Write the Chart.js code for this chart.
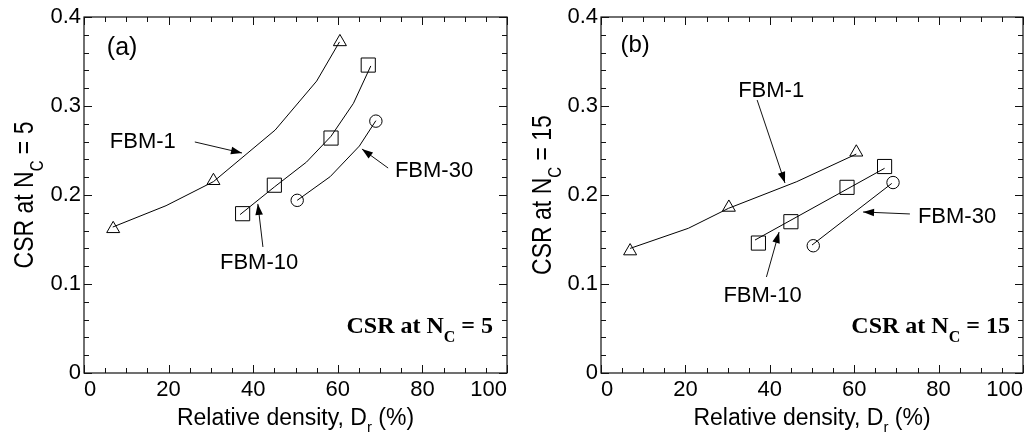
<!DOCTYPE html>
<html><head><meta charset="utf-8">
<script src="https://cdn.jsdelivr.net/npm/chart.js@4/dist/chart.umd.min.js"></script>
<style>
html,body{margin:0;padding:0;background:#fff;}
#wrap{display:flex;width:1036px;height:434px;}
canvas{display:block;}
</style></head><body>
<div id="wrap"><canvas id="ca" width="518" height="434"></canvas><canvas id="cb" width="518" height="434"></canvas></div>
<script>
// ---------- tick values ----------
const xTickStep = 20;
const yTickStep = 0.1;
const xRange = [0, 100];
const yRange = [0, 0.4];

// ---------- Panel (a): CSR at Nc = 5 ----------
const a_fbm1_Dr   = [6.9, 30.6, 60.5];
const a_fbm1_CSR  = [0.162, 0.216, 0.372];
const a_fbm1_fitDr  = [6.8, 19.4, 30.6, 45.2, 55.0, 60.4];
const a_fbm1_fitCSR = [0.164, 0.188, 0.215, 0.273, 0.328, 0.372];

const a_fbm10_Dr  = [37.5, 45.0, 58.4, 67.2];
const a_fbm10_CSR = [0.179, 0.211, 0.264, 0.346];
const a_fbm10_fitDr  = [36.9, 45.0, 52.6, 58.4, 63.7, 67.8];
const a_fbm10_fitCSR = [0.178, 0.209, 0.237, 0.266, 0.303, 0.345];

const a_fbm30_Dr  = [50.4, 69.0];
const a_fbm30_CSR = [0.194, 0.283];
const a_fbm30_fitDr  = [50.4, 58.2, 65.1, 69.0];
const a_fbm30_fitCSR = [0.194, 0.2206, 0.255, 0.2835];

// ---------- Panel (b): CSR at Nc = 15 ----------
const b_fbm1_Dr   = [6.9, 30.3, 60.5];
const b_fbm1_CSR  = [0.137, 0.186, 0.248];
const b_fbm1_fitDr  = [6.9, 20.7, 30.2, 46.4, 60.5];
const b_fbm1_fitCSR = [0.140, 0.1626, 0.185, 0.215, 0.246];

const b_fbm10_Dr  = [37.3, 45.0, 58.3, 67.2];
const b_fbm10_CSR = [0.146, 0.170, 0.2086, 0.232];
const b_fbm10_fitDr  = [36.5, 67.2];
const b_fbm10_fitCSR = [0.1494, 0.230];

const b_fbm30_Dr  = [50.3, 69.2];
const b_fbm30_CSR = [0.143, 0.214];
const b_fbm30_fitDr  = [50.0, 68.9];
const b_fbm30_fitCSR = [0.1438, 0.213];

// ---------- helpers ----------
const SANS = '"Liberation Sans", Arial, Helvetica, sans-serif';
const SERIF = '"Liberation Serif", "Times New Roman", serif';
const zip = (xs, ys) => xs.map((x, i) => ({x, y: ys[i]}));

function richWidth(ctx, parts) {
  let w = 0;
  for (const p of parts) { ctx.font = p.font; w += ctx.measureText(p.t).width; }
  return w;
}
function drawRich(ctx, parts, x, y) {
  for (const p of parts) {
    ctx.font = p.font;
    ctx.fillText(p.t, x, y + (p.dy || 0));
    x += ctx.measureText(p.t).width;
  }
}
function arrow(ctx, x0, y0, x1, y1) {
  ctx.beginPath(); ctx.moveTo(x0, y0); ctx.lineTo(x1, y1); ctx.stroke();
  const ang = Math.atan2(y1 - y0, x1 - x0), L = 11, W = 3.8;
  const bx = x1 - L * Math.cos(ang), by = y1 - L * Math.sin(ang);
  ctx.beginPath();
  ctx.moveTo(x1, y1);
  ctx.lineTo(bx + W * Math.sin(ang), by - W * Math.cos(ang));
  ctx.lineTo(bx - W * Math.sin(ang), by + W * Math.cos(ang));
  ctx.closePath(); ctx.fill();
}

function decorPlugin(cfg) {
  return {
    id: 'decor',
    afterDraw(chart) {
      const ctx = chart.ctx, ca = chart.chartArea;
      const sx = chart.scales.x, sy = chart.scales.y;
      const X = v => sx.getPixelForValue(v), Y = v => sy.getPixelForValue(v);
      ctx.save();
      ctx.strokeStyle = '#111'; ctx.fillStyle = '#000'; ctx.lineWidth = 1.2;
      // frame
      ctx.strokeRect(ca.left, ca.top, ca.right - ca.left, ca.bottom - ca.top);
      // inward ticks
      ctx.lineWidth = 1;
      ctx.beginPath();
      for (let i = 0; i <= 20; i++) {
        const px = Math.round(X(i * 5)) + 0.5, len = (i % 4 === 0) ? 8 : 5;
        ctx.moveTo(px, ca.bottom); ctx.lineTo(px, ca.bottom - len);
        ctx.moveTo(px, ca.top); ctx.lineTo(px, ca.top + len);
      }
      for (let i = 0; i <= 20; i++) {
        const py = Math.round(Y(i * 0.02)) + 0.5, len = (i % 5 === 0) ? 8 : 5;
        ctx.moveTo(ca.left, py); ctx.lineTo(ca.left + len, py);
        ctx.moveTo(ca.right, py); ctx.lineTo(ca.right - len, py);
      }
      ctx.stroke();

      ctx.textAlign = 'left'; ctx.textBaseline = 'alphabetic';
      // x axis title
      const xt = [
        {t: 'Relative density, D', font: '23px ' + SANS},
        {t: 'r', font: '15px ' + SANS, dy: 7},
        {t: ' (%)', font: '23px ' + SANS}
      ];
      const xw = richWidth(ctx, xt);
      drawRich(ctx, xt, (ca.left + ca.right) / 2 - xw / 2, 425);
      // y axis title (rotated)
      const yt = [
        {t: 'CSR at N', font: '23px ' + SANS},
        {t: 'C', font: '15px ' + SANS, dy: 8},
        {t: ' = ' + cfg.nc, font: '23px ' + SANS}
      ];
      const yw = richWidth(ctx, yt);
      ctx.save();
      ctx.translate(cfg.yTitleX, (ca.top + ca.bottom) / 2);
      ctx.rotate(-Math.PI / 2);
      ctx.scale(1, 1.2);
      drawRich(ctx, yt, -yw / 2, 0);
      ctx.restore();

      // panel label
      ctx.font = cfg.panel.size + 'px ' + SANS;
      ctx.fillText(cfg.panel.t, X(cfg.panel.x), Y(cfg.panel.y));

      // series labels + arrows
      ctx.lineWidth = 1;
      for (const a of cfg.notes) {
        ctx.font = '22px ' + SANS;
        ctx.fillText(a.t, X(a.x), Y(a.y));
        arrow(ctx, X(a.from[0]), Y(a.from[1]), X(a.to[0]), Y(a.to[1]));
      }

      // bold box label
      const bt = [
        {t: 'CSR at N', font: 'bold 24px ' + SERIF},
        {t: 'C', font: 'bold 16px ' + SERIF, dy: 9},
        {t: ' = ' + cfg.nc, font: 'bold 24px ' + SERIF}
      ];
      const bw = richWidth(ctx, bt);
      drawRich(ctx, bt, X(cfg.boxRight) - bw, Y(0.045));
      ctx.restore();
    }
  };
}

function lineDS(xs, ys) {
  return {data: zip(xs, ys), showLine: true, borderColor: '#000', borderWidth: 1,
          pointRadius: 0, fill: false, tension: 0, order: 2};
}
function markDS(xs, ys, style, r) {
  return {data: zip(xs, ys), showLine: false, pointStyle: style, pointRadius: r,
          pointHoverRadius: r, borderColor: '#000', pointBorderWidth: 1, borderWidth: 1,
          backgroundColor: 'rgba(0,0,0,0)', order: 1};
}

function makeChart(id, cfg) {
  return new Chart(document.getElementById(id), {
    type: 'scatter',
    data: {datasets: [
      lineDS(cfg.s[0].fx, cfg.s[0].fy), lineDS(cfg.s[1].fx, cfg.s[1].fy), lineDS(cfg.s[2].fx, cfg.s[2].fy),
      markDS(cfg.s[0].x, cfg.s[0].y, 'triangle', 7.5),
      markDS(cfg.s[1].x, cfg.s[1].y, 'rect', 10),
      markDS(cfg.s[2].x, cfg.s[2].y, 'circle', 6.2)
    ]},
    options: {
      responsive: false, animation: false, devicePixelRatio: 1,
      layout: {padding: {left: 0, top: 17, right: cfg.padRight, bottom: 0}},
      plugins: {legend: {display: false}, tooltip: {enabled: false}},
      events: [],
      scales: {
        x: {
          type: 'linear', min: xRange[0], max: xRange[1],
          ticks: {stepSize: xTickStep, color: '#000', font: {family: SANS, size: 22}, padding: 4, maxRotation: 0, autoSkip: false, align: 'inner'},
          grid: {display: false, drawTicks: false},
          border: {display: false},
          afterFit(s) { s.height = 61; s.paddingLeft = 0; s.paddingRight = 0; }
        },
        y: {
          type: 'linear', min: yRange[0], max: yRange[1],
          ticks: {stepSize: yTickStep, color: '#000', font: {family: SANS, size: 22}, padding: 3, autoSkip: false},
          grid: {display: false, drawTicks: false},
          border: {display: false},
          afterFit(s) { s.width = cfg.left; s.paddingTop = 0; s.paddingBottom = 0; }
        }
      }
    },
    plugins: [decorPlugin(cfg)]
  });
}

makeChart('ca', {
  left: 84, padRight: 11, nc: '5', yTitleX: 33, boxRight: 96.7,
  panel: {t: '(a)', x: 5.4, y: 0.357, size: 25},
  s: [
    {x: a_fbm1_Dr, y: a_fbm1_CSR, fx: a_fbm1_fitDr, fy: a_fbm1_fitCSR},
    {x: a_fbm10_Dr, y: a_fbm10_CSR, fx: a_fbm10_fitDr, fy: a_fbm10_fitCSR},
    {x: a_fbm30_Dr, y: a_fbm30_CSR, fx: a_fbm30_fitDr, fy: a_fbm30_fitCSR}
  ],
  notes: [
    {t: 'FBM-1', x: 6.1, y: 0.253, from: [26.2, 0.2596], to: [37.35, 0.2472]},
    {t: 'FBM-10', x: 32.15, y: 0.1169, from: [42.3, 0.1416], to: [41.1, 0.190]},
    {t: 'FBM-30', x: 73.5, y: 0.2202, from: [71.9, 0.2303], to: [65.7, 0.2517]}
  ]
});
makeChart('cb', {
  left: 83, padRight: 13, nc: '15', yTitleX: 33, boxRight: 96.9,
  panel: {t: '(b)', x: 4.6, y: 0.3607, size: 24},
  s: [
    {x: b_fbm1_Dr, y: b_fbm1_CSR, fx: b_fbm1_fitDr, fy: b_fbm1_fitCSR},
    {x: b_fbm10_Dr, y: b_fbm10_CSR, fx: b_fbm10_fitDr, fy: b_fbm10_fitCSR},
    {x: b_fbm30_Dr, y: b_fbm30_CSR, fx: b_fbm30_fitDr, fy: b_fbm30_fitCSR}
  ],
  notes: [
    {t: 'FBM-1', x: 32.5, y: 0.310, from: [37.0, 0.3067], to: [43.6, 0.2135]},
    {t: 'FBM-10', x: 29.0, y: 0.0798, from: [39.2, 0.1079], to: [42.2, 0.1584]},
    {t: 'FBM-30', x: 75.1, y: 0.1685, from: [73.2, 0.1787], to: [62.1, 0.1809]}
  ]
});
</script>
</body></html>
